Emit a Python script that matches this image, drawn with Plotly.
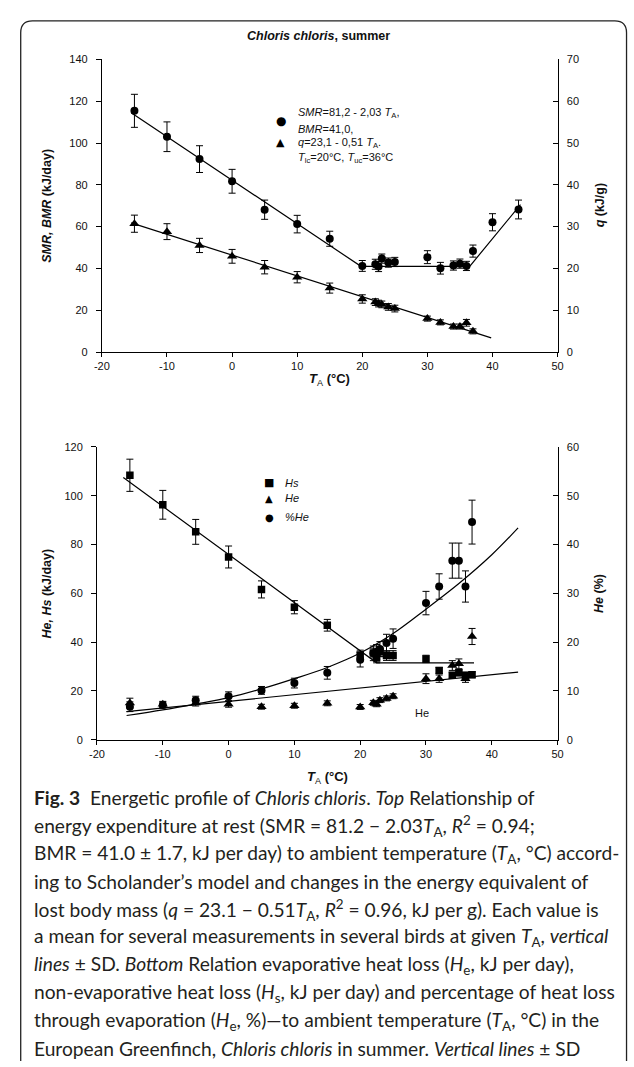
import plotly.graph_objects as go

W, H = 634, 1067

# ---------------- TOP PANEL DATA ----------------
t_top = [-15, -10, -5, 0, 5, 10, 15, 20, 22, 22.5, 23, 24, 25, 30, 32, 34, 35, 36, 37, 40, 44]
smr = [115.4, 103.0, 92.3, 81.7, 68.1, 61.2, 54.2, 41.2, 42.0, 40.9, 44.7, 42.8, 43.1, 45.4, 40.1, 41.4, 42.3, 41.2, 48.3, 62.1, 68.2]
smr_sd = [7.9, 7.1, 6.4, 5.7, 4.6, 4.2, 3.6, 2.6, 2.4, 2.4, 2.2, 2.2, 2.2, 3.1, 2.8, 2.2, 2.2, 2.2, 2.9, 4.1, 4.5]

t_q = [-15, -10, -5, 0, 5, 10, 15, 20, 22, 22.5, 23, 24, 25, 30, 32, 34, 35, 36, 37]
q_val = [30.7, 28.8, 25.5, 22.9, 20.3, 17.9, 15.3, 12.7, 11.95, 11.6, 11.4, 10.8, 10.4, 8.0, 7.1, 6.1, 6.1, 7.0, 4.95]
q_sd = [2.05, 1.9, 1.7, 1.65, 1.6, 1.35, 1.2, 1.0, 0.8, 0.8, 0.8, 0.8, 0.8, 0.6, 0.6, 0.6, 0.6, 0.8, 0.6]

smr_fit_x = [-15.5, 19.8, 36.5, 44.3]
smr_fit_y = [114.5, 41.0, 41.0, 70.5]
q_fit_x = [-15.5, 39.8]
q_fit_y = [30.9, 3.4]

# ---------------- BOTTOM PANEL DATA ----------------
t_bot = [-15, -10, -5, 0, 5, 10, 15, 20, 22, 22.5, 23, 24, 25, 30, 32, 34, 35, 36, 37]
hs = [108.4, 96.3, 85.2, 74.9, 61.6, 54.3, 46.9, 34.7, 35.5, 33.5, 36.0, 34.5, 34.5, 33.1, 28.4, 26.4, 27.4, 26.4, 26.6]
hs_sd = [6.6, 5.9, 5.1, 4.5, 3.5, 2.7, 2.4, 2.0, 2.0, 2.0, 2.0, 2.0, 2.0, 1.5, 1.2, 1.2, 1.2, 1.2, 1.2]
he = [15.0, 14.5, 15.0, 14.5, 13.5, 13.9, 14.9, 13.4, 15.1, 14.5, 16.2, 16.9, 17.8, 25.0, 25.0, 30.4, 31.1, 25.0, 42.3]
he_sd = [2.0, 1.2, 1.2, 1.2, 1.0, 1.0, 1.0, 1.0, 1.0, 1.0, 1.0, 1.0, 1.0, 2.0, 1.5, 2.0, 2.0, 1.5, 3.3]
pct_he = [6.75, 7.1, 8.1, 8.9, 10.1, 11.6, 13.7, 16.4, 17.7, 18.0, 18.6, 19.8, 20.7, 28.0, 31.4, 36.7, 36.7, 31.4, 44.6]
pct_sd = [1.0, 0.6, 0.8, 0.9, 0.8, 1.0, 1.3, 1.5, 1.5, 1.5, 1.5, 1.8, 2.0, 2.4, 2.6, 3.6, 3.6, 3.2, 4.5]

hs_fit_x = [-16.0, 22.5, 37.3]
hs_fit_y = [107.5, 31.5, 31.5]
he_fit_x = [-15.5, 44.0]
he_fit_y = [11.5, 27.7]
pct_fit_x = [-15.5, -10, -5, 0, 5, 10, 15, 20, 25, 30, 35, 40, 44]
pct_fit_y = [4.95, 6.1, 7.3, 8.6, 10.4, 12.5, 14.8, 17.75, 21.75, 26.75, 32.0, 37.9, 43.4]

x_ticks = [-20, -10, 0, 10, 20, 30, 40, 50]
x_ticktext = ["-20", "-10", "0", "10", "20", "30", "40", "50"]

# ---------------- HELPERS ----------------
def px(x):
    return x / W

def py(y):
    return 1 - y / H

BLACK = "black"
FONT = "Liberation Sans, Arial, sans-serif"

def err(arr):
    return dict(type="data", array=arr, color=BLACK, thickness=1, width=3.5, visible=True)

fig = go.Figure()

# top panel
fig.add_trace(go.Scatter(x=smr_fit_x, y=smr_fit_y, mode="lines", line=dict(color=BLACK, width=1.2),
                         xaxis="x", yaxis="y", showlegend=False, hoverinfo="skip"))
fig.add_trace(go.Scatter(x=q_fit_x, y=q_fit_y, mode="lines", line=dict(color=BLACK, width=1.2),
                         xaxis="x", yaxis="y2", showlegend=False, hoverinfo="skip"))
fig.add_trace(go.Scatter(x=t_top, y=smr, mode="markers", error_y=err(smr_sd),
                         marker=dict(symbol="circle", size=8, color=BLACK),
                         xaxis="x", yaxis="y", showlegend=False))
fig.add_trace(go.Scatter(x=t_q, y=q_val, mode="markers", error_y=err(q_sd),
                         marker=dict(symbol="triangle-up", size=9, color=BLACK),
                         xaxis="x", yaxis="y2", showlegend=False))

# bottom panel
fig.add_trace(go.Scatter(x=hs_fit_x, y=hs_fit_y, mode="lines", line=dict(color=BLACK, width=1.2),
                         xaxis="x2", yaxis="y3", showlegend=False, hoverinfo="skip"))
fig.add_trace(go.Scatter(x=he_fit_x, y=he_fit_y, mode="lines", line=dict(color=BLACK, width=1.2),
                         xaxis="x2", yaxis="y3", showlegend=False, hoverinfo="skip"))
fig.add_trace(go.Scatter(x=pct_fit_x, y=pct_fit_y, mode="lines", line=dict(color=BLACK, width=1.2, shape="spline"),
                         xaxis="x2", yaxis="y4", showlegend=False, hoverinfo="skip"))
fig.add_trace(go.Scatter(x=t_bot, y=hs, mode="markers", error_y=err(hs_sd),
                         marker=dict(symbol="square", size=7.5, color=BLACK),
                         xaxis="x2", yaxis="y3", showlegend=False))
fig.add_trace(go.Scatter(x=t_bot, y=he, mode="markers", error_y=err(he_sd),
                         marker=dict(symbol="triangle-up", size=9, color=BLACK),
                         xaxis="x2", yaxis="y3", showlegend=False))
fig.add_trace(go.Scatter(x=t_bot, y=pct_he, mode="markers", error_y=err(pct_sd),
                         marker=dict(symbol="circle", size=8, color=BLACK),
                         xaxis="x2", yaxis="y4", showlegend=False))

axis_common = dict(showline=True, linecolor=BLACK, linewidth=1,
                   tickcolor=BLACK, tickwidth=1, showgrid=False, zeroline=False,
                   tickfont=dict(family=FONT, size=11, color="#111"))

top_x = [px(96), px(562)]
top_y = [py(350), py(54)]
bot_x = [px(91), px(562)]
bot_y = [py(742), py(446)]

xa = dict(range=[-20, 50], tickvals=x_ticks, ticktext=x_ticktext, ticks="outside", ticklen=4, **axis_common)
yl = dict(ticks="outside", ticklen=5, ticklabelstandoff=6, **axis_common)
yr = dict(ticks="inside", ticklen=5, ticklabelstandoff=6, side="right", **axis_common)

fig.update_layout(
    width=W, height=H, margin=dict(l=0, r=0, t=0, b=0),
    paper_bgcolor="white", plot_bgcolor="white", showlegend=False,
    xaxis=dict(domain=top_x, anchor="y", **xa),
    yaxis=dict(domain=top_y, anchor="x", range=[0, 140], dtick=20, **yl),
    yaxis2=dict(overlaying="y", anchor="x", range=[0, 70], dtick=10, **yr),
    xaxis2=dict(domain=bot_x, anchor="y3", **xa),
    yaxis3=dict(domain=bot_y, anchor="x2", range=[0, 120], dtick=20, **yl),
    yaxis4=dict(overlaying="y3", anchor="x2", range=[0, 60], dtick=10, **yr),
)

ann = []

def label(x, y, text, size=11, angle=0, xanchor="center", family=FONT, color="#111"):
    ann.append(dict(x=px(x), y=py(y), xref="paper", yref="paper", text=text, showarrow=False,
                    xanchor=xanchor, yanchor="middle", textangle=angle,
                    font=dict(family=family, size=size, color=color)))

# titles
label(318, 30, "<b><i>Chloris chloris</i>, summer</b>", size=12.5)
label(40, 202, "<b><i>SMR, BMR</i> (kJ/day)</b>", size=12.5, angle=-90)
label(605, 202, "<b><i>q</i> (kJ/g)</b>", size=12.5, angle=-90)
label(329, 378, "<b><i>T</i></b><sub>A</sub><b> (°C)</b>", size=13)
label(40, 594, "<b><i>He, Hs</i> (kJ/day)</b>", size=12.5, angle=-90)
label(605, 594, "<b><i>He</i> (%)</b>", size=12.5, angle=-90)
label(327, 780, "<b><i>T</i></b><sub>A</sub><b> (°C)</b>", size=13)

# top legend
label(279, 116, "●", size=12, family="DejaVu Sans", color="black")
label(279, 138, "▲", size=11, family="DejaVu Sans", color="black")
label(295, 108, "<i>SMR</i>=81,2 - 2,03 <i>T</i><sub>A</sub>,", size=11, xanchor="left")
label(295, 124, "<i>BMR</i>=41,0,", size=11, xanchor="left")
label(295, 139, "<i>q</i>=23,1 - 0,51 <i>T</i><sub>A</sub>.", size=11, xanchor="left")
label(295, 154, "<i>T</i><sub>lc</sub>=20°C, <i>T</i><sub>uc</sub>=36°C", size=11, xanchor="left")

# bottom legend
label(267, 482, "■", size=11, family="DejaVu Sans", color="black")
label(267, 498, "▲", size=10, family="DejaVu Sans", color="black")
label(267, 517, "●", size=10, family="DejaVu Sans", color="black")
label(281, 482, "<i>Hs</i>", size=11, xanchor="left")
label(281, 498, "<i>He</i>", size=11, xanchor="left")
label(281, 517, "<i>%He</i>", size=11, xanchor="left")
label(423, 715, "He", size=11)

# caption
caption_lines = [
    "<b>Fig. 3</b>  Energetic profile of <i>Chloris chloris</i>. <i>Top</i> Relationship of",
    "energy expenditure at rest (SMR = 81.2 − 2.03<i>T</i><sub>A</sub>, <i>R</i><sup>2</sup> = 0.94;",
    "BMR = 41.0 ± 1.7, kJ per day) to ambient temperature (<i>T</i><sub>A</sub>, °C) accord-",
    "ing to Scholander’s model and changes in the energy equivalent of",
    "lost body mass (<i>q</i> = 23.1 − 0.51<i>T</i><sub>A</sub>, <i>R</i><sup>2</sup> = 0.96, kJ per g). Each value is",
    "a mean for several measurements in several birds at given <i>T</i><sub>A</sub>, <i>vertical</i>",
    "<i>lines</i> ± SD. <i>Bottom</i> Relation evaporative heat loss (<i>H</i><sub>e</sub>, kJ per day),",
    "non-evaporative heat loss (<i>H</i><sub>s</sub>, kJ per day) and percentage of heat loss",
    "through evaporation (<i>H</i><sub>e</sub>, %)—to ambient temperature (<i>T</i><sub>A</sub>, °C) in the",
    "European Greenfinch, <i>Chloris chloris</i> in summer. <i>Vertical lines</i> ± SD",
]
for i, line in enumerate(caption_lines):
    label(25, 801 + i * 28.2, line, size=19.2, xanchor="left", family="Lato, Noto Sans, sans-serif", color="#231f20")

fig.update_layout(annotations=ann)

# rounded border
r = 12
L, R, T = 13, 632.5, 15
path = (f"M {px(L)},{py(H)} L {px(L)},{py(T + r)} Q {px(L)},{py(T)} {px(L + r)},{py(T)} "
        f"L {px(R - r)},{py(T)} Q {px(R)},{py(T)} {px(R)},{py(T + r)} L {px(R)},{py(H)}")
fig.add_shape(type="path", path=path, xref="paper", yref="paper", line=dict(color="#222", width=1.3))

fig.write_html("out.html", config={"displayModeBar": False},
               post_script="document.body.style.margin='0';document.body.style.overflow='hidden';")
